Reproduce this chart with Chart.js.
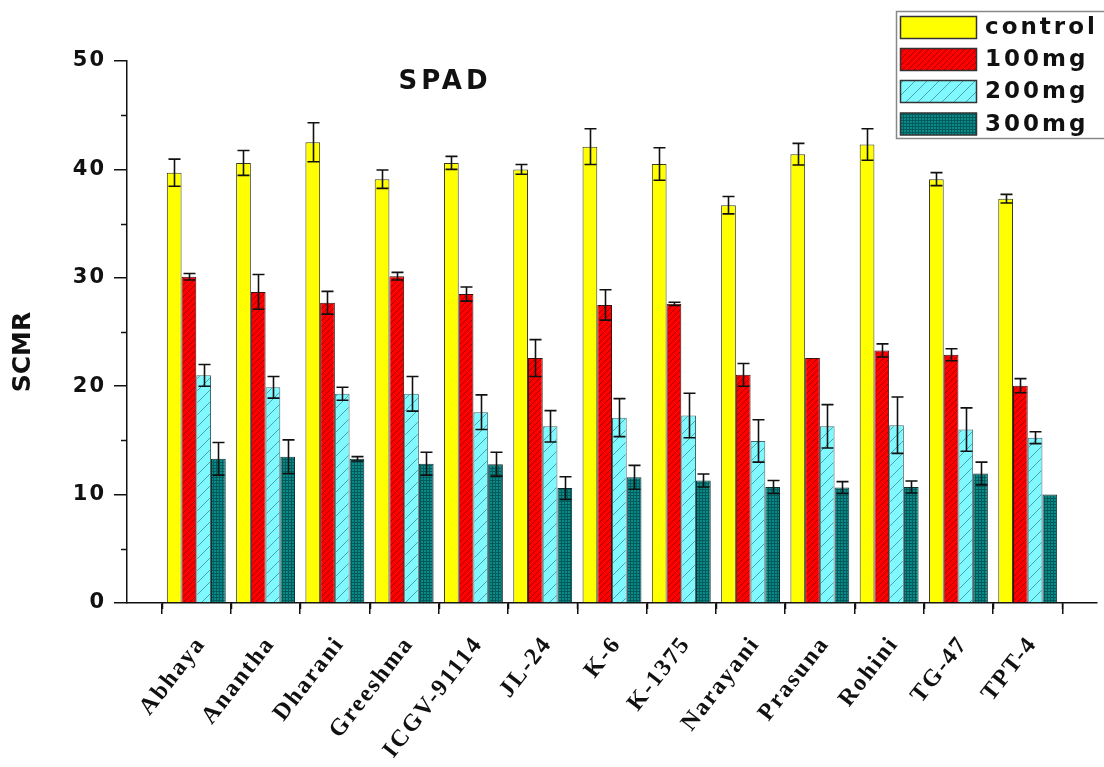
<!DOCTYPE html>
<html>
<head>
<meta charset="utf-8">
<script src="https://cdn.jsdelivr.net/npm/chart.js@4.4.1/dist/chart.umd.min.js"></script>
<style>
  html, body { margin: 0; padding: 0; background: #ffffff; }
  #wrap { width: 1104px; height: 767px; position: relative; }
  canvas { display: block; }
</style>
</head>
<body>
<div id="wrap"><canvas id="chart" width="1104" height="767"></canvas></div>
<script>
// Groundnut cultivars and their SPAD (SCMR) readings per treatment
const cultivars = ['Abhaya', 'Anantha', 'Dharani', 'Greeshma', 'ICGV-91114', 'JL-24', 'K-6',
                   'K-1375', 'Narayani', 'Prasuna', 'Rohini', 'TG-47', 'TPT-4'];
const seriesNames = ['control', '100mg', '200mg', '300mg'];

const control    = [39.7, 40.6, 42.5, 39.1, 40.6, 40.0, 42.1, 40.5, 36.7, 41.4, 42.3, 39.1, 37.3];
const controlErr = [1.25, 1.15, 1.8, 0.85, 0.6, 0.45, 1.65, 1.5, 0.8, 1.0, 1.45, 0.6, 0.4];
const mg100      = [30.1, 28.7, 27.7, 30.15, 28.5, 22.6, 27.5, 27.6, 21.05, 22.6, 23.3, 22.9, 20.05];
const mg100Err   = [0.3, 1.6, 1.05, 0.35, 0.65, 1.7, 1.4, 0.15, 1.05, 0, 0.6, 0.55, 0.65];
const mg200      = [21.0, 19.9, 19.3, 19.3, 17.6, 16.3, 17.1, 17.3, 14.95, 16.3, 16.4, 16.0, 15.25];
const mg200Err   = [1.0, 1.0, 0.6, 1.6, 1.6, 1.45, 1.75, 2.05, 1.95, 2.0, 2.6, 2.0, 0.55];
const mg300      = [13.3, 13.5, 13.3, 12.85, 12.8, 10.6, 11.6, 11.3, 10.7, 10.65, 10.7, 11.95, 10.0];
const mg300Err   = [1.5, 1.55, 0.2, 1.05, 1.1, 1.05, 1.1, 0.6, 0.6, 0.55, 0.55, 1.05, 0];

const yTickValues = [0, 10, 20, 30, 40, 50];
const yMinorValues = [5, 15, 25, 35, 45];

// The x axis keeps an empty slot at each end so the groups sit on whole ticks
const pad = arr => [null, ...arr, null];
const xLabels = ['', ...cultivars, ''];

// Fill patterns for the treatment bars
function tile(w, h, bg, draw) {
  const c = document.createElement('canvas');
  c.width = w; c.height = h;
  const g = c.getContext('2d');
  g.fillStyle = bg; g.fillRect(0, 0, w, h);
  draw(g, w, h);
  return g.createPattern(c, 'repeat');
}
function diag(g, w, h, color, lw) {
  g.strokeStyle = color; g.lineWidth = lw;
  g.beginPath();
  g.moveTo(-1, h + 1); g.lineTo(w + 1, -1);
  g.moveTo(-w - 1, h + 1); g.lineTo(1, -1);
  g.moveTo(w - 1, 2 * h + 1); g.lineTo(2 * w + 1, h - 1);
  g.stroke();
}
const fillControl = '#ffff00';
const fill100 = tile(6, 6, '#ff0000', (g, w, h) => diag(g, w, h, '#a80000', 1));
const fill200 = tile(12, 12, '#80f8ff', (g, w, h) => diag(g, w, h, '#4aa4a8', 1));
const fill300 = tile(3, 3, '#088a88', (g) => {
  g.fillStyle = '#035a5a';
  g.fillRect(0, 0, 3, 1);
  g.fillRect(0, 0, 1, 3);
});
const fills = [fillControl, fill100, fill200, fill300];
const borders = ['#3a3a20', '#3a1010', '#406a6a', '#103030'];

const seriesValues = [control, mg100, mg200, mg300];
const seriesErrors = [controlErr, mg100Err, mg200Err, mg300Err];

const datasets = seriesNames.map((name, i) => ({
  label: name,
  data: pad(seriesValues[i]),
  errors: pad(seriesErrors[i]),
  backgroundColor: fills[i],
  borderColor: borders[i],
  borderWidth: 1,
  borderSkipped: 'start',
  categoryPercentage: 0.85,
  barPercentage: 1.0
}));

const AXIS_LEFT = 127, AXIS_BOTTOM = 603;

// Error bars: vertical line with caps at value ± error
const errorBars = {
  id: 'errorBars',
  afterDatasetsDraw(chart) {
    const ctx = chart.ctx, ys = chart.scales.y;
    ctx.save();
    ctx.strokeStyle = '#111';
    ctx.lineWidth = 1.6;
    chart.data.datasets.forEach((ds, i) => {
      const meta = chart.getDatasetMeta(i);
      meta.data.forEach((bar, j) => {
        const v = ds.data[j], e = ds.errors[j];
        if (v == null || !e) return;
        const yt = ys.getPixelForValue(v + e);
        const yb = ys.getPixelForValue(v - e);
        const x = Math.round(bar.x) + 0.5, hw = 6;
        ctx.beginPath();
        ctx.moveTo(x, yt); ctx.lineTo(x, yb);
        ctx.moveTo(x - hw, yt); ctx.lineTo(x + hw, yt);
        ctx.moveTo(x - hw, yb); ctx.lineTo(x + hw, yb);
        ctx.stroke();
      });
    });
    ctx.restore();
  }
};

// Minor ticks, titles and the framed legend
const decorations = {
  id: 'decorations',
  beforeDraw(chart) {
    chart.ctx.letterSpacing = '2px';
  },
  afterDraw(chart) {
    const ctx = chart.ctx, xs = chart.scales.x, ys = chart.scales.y;
    ctx.save();
    ctx.letterSpacing = '0px';
    ctx.strokeStyle = '#111';
    ctx.lineWidth = 1.5;
    ctx.beginPath();
    yMinorValues.forEach(v => {
      const y = Math.round(ys.getPixelForValue(v)) + 0.5;
      ctx.moveTo(xs.left - 6, y); ctx.lineTo(xs.left, y);
    });
    for (let i = 0; i < xLabels.length - 1; i++) {
      const x = Math.round(xs.getPixelForValue(i + 0.5)) + 0.5;
      ctx.moveTo(x, ys.bottom); ctx.lineTo(x, ys.bottom + 6);
    }
    ctx.stroke();

    ctx.fillStyle = '#111';
    // plot title
    ctx.font = 'bold 26px "DejaVu Sans"';
    ctx.letterSpacing = '4px';
    ctx.textAlign = 'center';
    ctx.textBaseline = 'middle';
    ctx.fillText('SPAD', 445, 82);

    // y axis title
    ctx.font = 'bold 25px "DejaVu Sans"';
    ctx.letterSpacing = '0px';
    ctx.save();
    ctx.translate(23, 352);
    ctx.rotate(-Math.PI / 2);
    ctx.fillText('SCMR', 0, 0);
    ctx.restore();

    // legend frame
    ctx.strokeStyle = '#888';
    ctx.lineWidth = 1.5;
    ctx.strokeRect(896.5, 11.5, 230, 127);
    const rows = [27.5, 59.5, 91.5, 124];
    ctx.font = 'bold 23px "DejaVu Sans"';
    ctx.letterSpacing = '3px';
    ctx.textAlign = 'left';
    chart.data.datasets.forEach((ds, i) => {
      const y = rows[i];
      ctx.fillStyle = ds.backgroundColor;
      ctx.fillRect(900, y - 11, 77, 22);
      ctx.strokeStyle = '#333';
      ctx.lineWidth = 1.5;
      ctx.strokeRect(900.5, y - 11, 76, 22);
      ctx.fillStyle = '#111';
      ctx.fillText(ds.label, 985, y + 1);
    });
    ctx.restore();
  }
};

new Chart(document.getElementById('chart'), {
  type: 'bar',
  data: { labels: xLabels, datasets },
  plugins: [errorBars, decorations],
  options: {
    responsive: false,
    animation: false,
    devicePixelRatio: 1,
    layout: { padding: { top: 61, right: 7, left: 0, bottom: 0 } },
    plugins: { legend: { display: false }, title: { display: false }, tooltip: { enabled: false } },
    scales: {
      x: {
        type: 'category',
        offset: false,
        grid: { display: true, drawOnChartArea: false, drawTicks: true, tickLength: 11, color: '#111', lineWidth: 1.5 },
        border: { display: true, color: '#111', width: 1.5 },
        ticks: {
          autoSkip: false,
          minRotation: 52,
          maxRotation: 52,
          padding: 17,
          labelOffset: 5,
          color: '#111',
          font: { family: '"Liberation Serif", "Times New Roman", serif', weight: 'bold', size: 24 }
        },
        afterFit(scale) {
          scale.height = 767 - AXIS_BOTTOM;
          scale.paddingLeft = 0;
          scale.paddingRight = 0;
        }
      },
      y: {
        type: 'linear',
        min: 0,
        max: 50,
        afterBuildTicks(scale) { scale.ticks = yTickValues.map(v => ({ value: v })); },
        grid: { display: true, drawOnChartArea: false, drawTicks: true, tickLength: 13, color: '#111', lineWidth: 1.5 },
        border: { display: true, color: '#111', width: 1.5 },
        ticks: {
          padding: 8,
          color: '#111',
          font: { family: '"DejaVu Sans"', weight: 'bold', size: 21 }
        },
        afterFit(scale) { scale.width = AXIS_LEFT; }
      }
    }
  }
});
</script>
</body>
</html>
